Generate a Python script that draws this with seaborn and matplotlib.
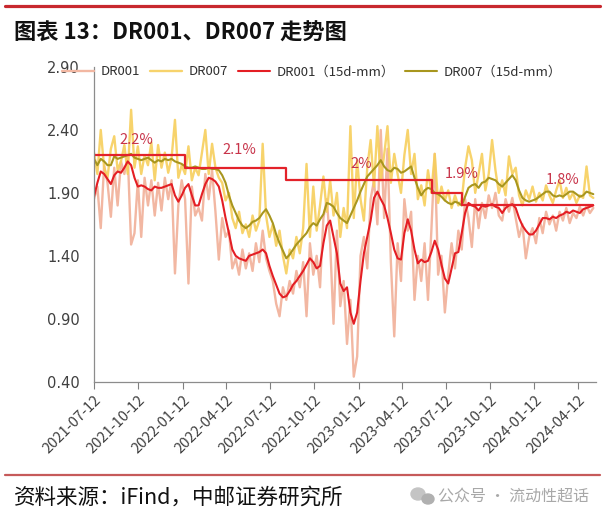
import numpy as np
import pandas as pd
import matplotlib
matplotlib.use("Agg")
import matplotlib.pyplot as plt
import seaborn as sns
from matplotlib.lines import Line2D
from matplotlib.patches import Ellipse

# ---------------- data (weekly samples) ----------------
start_date = "2021-07-12"
dr001 = [
 1.85, 1.95, 1.62, 2.12, 1.98, 1.71, 2.10, 1.80, 2.15, 2.05,
 2.20, 1.49, 1.58, 2.00, 1.55, 2.02, 1.80, 2.00, 1.72, 1.98,
 1.76, 2.02, 1.85, 2.00, 1.26, 1.80, 2.00, 1.85, 1.18, 1.95,
 1.72, 1.78, 1.68, 2.05, 1.85, 2.08, 1.75, 1.37, 1.70, 1.55,
 1.60, 1.30, 1.38, 1.25, 1.45, 1.30, 1.42, 1.28, 1.50, 1.35,
 1.60, 1.38, 1.28, 1.20, 1.02, 0.92, 1.15, 1.05, 1.20, 1.10,
 1.28, 1.15, 1.35, 0.92, 1.50, 1.25, 1.40, 1.15, 1.70, 1.85,
 1.50, 0.86, 1.60, 1.00, 1.20, 0.70, 1.05, 0.44, 0.60, 1.40,
 1.55, 1.30, 1.85, 2.00, 1.65, 2.40, 1.70, 2.25, 1.35, 0.76,
 1.50, 1.20, 1.85, 1.60, 1.75, 1.05, 1.40, 1.20, 1.50, 1.05,
 1.60, 2.21, 1.25, 1.40, 0.95, 1.25, 1.50, 1.30, 1.60, 1.45,
 1.85, 1.70, 1.47, 1.85, 1.62, 1.82, 1.70, 1.88, 1.78, 1.90,
 1.72, 1.68, 1.85, 1.75, 1.86, 1.70, 1.55, 1.65, 1.38, 1.55,
 1.62, 1.50, 1.70, 1.58, 1.75, 1.65, 1.72, 1.60, 1.75, 1.68,
 1.78, 1.66, 1.74, 1.70, 1.79, 1.72, 1.80, 1.74, 1.78,
]
dr007 = [
 2.22, 2.05, 2.40, 2.10, 2.02, 2.25, 2.35, 2.08, 2.15, 2.28,
 2.05, 2.56, 2.10, 2.27, 2.05, 2.20, 2.12, 2.30, 2.00, 2.28,
 2.10, 2.22, 2.06, 2.18, 2.48, 2.02, 2.12, 2.05, 2.27, 2.00,
 2.10, 2.04, 2.22, 2.40, 2.05, 2.29, 2.10, 2.02, 1.98, 1.84,
 1.90, 1.70, 1.62, 1.75, 1.58, 1.65, 1.55, 1.72, 1.60, 1.68,
 2.29, 1.72, 1.55, 1.65, 1.48, 1.60, 1.40, 1.26, 1.45, 1.38,
 1.55, 1.42, 1.62, 2.13, 1.55, 1.95, 1.60, 1.80, 2.03, 1.75,
 2.00, 1.72, 1.90, 1.55, 1.78, 1.62, 2.43, 1.70, 2.16, 1.85,
 1.68, 2.10, 2.32, 1.95, 2.43, 2.00, 2.20, 2.43, 1.98, 2.21,
 2.05, 1.90, 2.20, 2.40, 2.05, 2.21, 1.85, 1.96, 1.80, 2.08,
 1.90, 2.21, 1.82, 1.95, 1.84, 1.92, 1.78, 1.88, 1.80, 1.84,
 2.10, 2.27, 2.16, 1.90, 2.05, 2.21, 1.92, 2.05, 2.32, 2.08,
 1.90, 2.00, 1.88, 2.19, 2.05, 2.10, 1.88, 1.80, 1.92, 1.85,
 1.95, 1.83, 1.90, 1.84, 1.96, 1.88, 1.82, 1.92, 2.00, 1.86,
 1.94, 1.85, 1.90, 1.82, 1.88, 1.86, 2.11, 1.88, 1.86,
]
dr001_ma = [
 1.87, 1.98, 2.07, 2.05, 2.01, 1.97, 2.04, 2.07, 2.06, 2.10,
 2.15, 2.12, 2.02, 1.95, 1.96, 1.95, 1.93, 1.92, 1.95, 1.94,
 1.94, 1.95, 1.96, 1.97, 1.88, 1.83, 1.88, 1.94, 1.97, 1.88,
 1.80, 1.80, 1.89, 1.97, 2.02, 2.01, 1.99, 1.95, 1.84, 1.70,
 1.58, 1.45, 1.40, 1.38, 1.37, 1.36, 1.40, 1.41, 1.42, 1.43,
 1.45, 1.42, 1.32, 1.24, 1.17, 1.10, 1.07, 1.08, 1.12, 1.17,
 1.20, 1.24, 1.28, 1.33, 1.38, 1.35, 1.30, 1.32, 1.50, 1.64,
 1.68, 1.55, 1.42, 1.18, 1.12, 1.15, 0.95, 0.86, 0.95, 1.20,
 1.42, 1.55, 1.68, 1.86, 1.91, 1.85, 1.80, 1.70, 1.58, 1.45,
 1.38, 1.37, 1.58, 1.69, 1.60, 1.45, 1.34, 1.37, 1.35, 1.36,
 1.43, 1.52, 1.45, 1.33, 1.22, 1.18, 1.30, 1.42, 1.43, 1.58,
 1.74, 1.82, 1.80, 1.79, 1.76, 1.80, 1.79, 1.80, 1.81, 1.79,
 1.78, 1.74, 1.78, 1.80, 1.81, 1.78, 1.70, 1.64, 1.60, 1.57,
 1.57, 1.60, 1.65, 1.70, 1.70, 1.69, 1.71, 1.70, 1.72, 1.73,
 1.75, 1.74, 1.76, 1.75, 1.74, 1.77, 1.78, 1.79, 1.80,
]
dr007_ma = [
 2.17, 2.12, 2.17, 2.15, 2.12, 2.12, 2.19, 2.17, 2.18, 2.19,
 2.20, 2.21, 2.18, 2.17, 2.16, 2.17, 2.18, 2.16, 2.14, 2.16,
 2.15, 2.17, 2.16, 2.17, 2.15, 2.14, 2.13, 2.11, 2.10, 2.10,
 2.11, 2.10, 2.09, 2.09, 2.10, 2.09, 2.09, 2.08, 2.04, 1.98,
 1.88, 1.80, 1.74, 1.68, 1.64, 1.62, 1.64, 1.67, 1.68, 1.70,
 1.74, 1.77, 1.72, 1.66, 1.57, 1.50, 1.44, 1.38, 1.41, 1.45,
 1.49, 1.52, 1.55, 1.58, 1.63, 1.66, 1.64, 1.69, 1.73, 1.82,
 1.81, 1.79, 1.74, 1.70, 1.68, 1.66, 1.72, 1.78, 1.84, 1.91,
 1.97, 2.03, 2.06, 2.09, 2.12, 2.16, 2.11, 2.08, 2.07, 2.10,
 2.09, 2.06, 2.07, 2.09, 2.11, 2.02, 1.94, 1.88, 1.92, 1.94,
 1.93, 1.90, 1.89, 1.87, 1.84, 1.82, 1.81, 1.83, 1.82, 1.80,
 1.87, 1.94, 1.96, 1.97, 1.94, 1.98, 1.99, 2.02, 2.01, 2.00,
 1.97, 1.95, 1.98, 2.01, 2.04, 2.00, 1.92, 1.86, 1.84, 1.83,
 1.84, 1.85, 1.87, 1.89, 1.91, 1.91, 1.88, 1.87, 1.88, 1.87,
 1.89, 1.91, 1.91, 1.89, 1.87, 1.88, 1.91, 1.90, 1.89,
]
# policy rate (7-day reverse repo) steps
rate_dates = ["2021-07-12", "2022-01-17", "2022-08-15", "2023-06-13", "2023-08-15"]
rate_vals = [2.2, 2.1, 2.0, 1.9, 1.8]
rate_labels = ["2.2%", "2.1%", "2%", "1.9%", "1.8%"]
rate_label_dates = ["2021-10-07", "2022-05-09", "2023-01-17", "2023-08-13", "2024-03-10"]
rate_label_y = [2.32, 2.24, 2.13, 2.05, 2.00]

xtick_labels = ["2021-07-12", "2021-10-12", "2022-01-12", "2022-04-12", "2022-07-12",
                "2022-10-12", "2023-01-12", "2023-04-12", "2023-07-12", "2023-10-12",
                "2024-01-12", "2024-04-12"]
yticks = [0.40, 0.90, 1.40, 1.90, 2.40, 2.90]
legend_labels = ["DR001", "DR007", "DR001（15d-mm）", "DR007（15d-mm）"]

# ---------------- build ----------------
dates = pd.date_range(start_date, periods=len(dr001), freq="7D")
df = pd.DataFrame({"date": dates, "DR001": dr001, "DR007": dr007,
                   "DR001_MA": dr001_ma, "DR007_MA": dr007_ma})
step_x = list(pd.to_datetime(rate_dates)) + [dates[-1]]
step_y = rate_vals + [rate_vals[-1]]

sns.set_style("ticks")
plt.rcParams["font.family"] = ["Noto Sans CJK SC", "DejaVu Sans"]

W, H = 604, 519
fig = plt.figure(figsize=(W / 100, H / 100), dpi=100)
ax = fig.add_axes([94 / W, 1 - 381.7 / H, (595.7 - 94) / W, (381.7 - 67) / H])

c_raw1 = "#F2B7A2"
c_raw7 = "#F7CF5C"
c_ma1 = "#E41E24"
c_ma7 = "#A8961E"
c_step = "#E3222A"

sns.lineplot(data=df, x="date", y="DR001", ax=ax, color=c_raw1, lw=1.7, label=legend_labels[0])
sns.lineplot(data=df, x="date", y="DR007", ax=ax, color=c_raw7, lw=1.7, alpha=0.9, label=legend_labels[1])
sns.lineplot(data=df, x="date", y="DR001_MA", ax=ax, color=c_ma1, lw=1.5, label=legend_labels[2])
sns.lineplot(data=df, x="date", y="DR007_MA", ax=ax, color=c_ma7, lw=1.5, label=legend_labels[3])
sns.lineplot(x=step_x, y=step_y, ax=ax, color=c_step, lw=1.6, drawstyle="steps-post")

for lab, d, yv in zip(rate_labels, rate_label_dates, rate_label_y):
    ax.text(pd.Timestamp(d), yv, lab, color="#C8344A", fontsize=10.5,
            ha="center", va="center")

ax.set_ylim(0.40, 2.90)
ax.set_xlim(pd.Timestamp(start_date), pd.Timestamp("2024-05-18"))
ax.set_yticks(yticks)
ax.set_yticklabels([f"{v:.2f}" for v in yticks], fontsize=10.5, color="#404040",
                   family="DejaVu Sans")
ax.set_xticks(pd.to_datetime(xtick_labels))
ax.set_xticklabels(xtick_labels, rotation=45, ha="right", rotation_mode="anchor",
                   fontsize=10.5, color="#404040")
ax.tick_params(axis="y", length=0, pad=10)
ax.tick_params(axis="x", length=5, width=0.8, color="#808080", pad=3)
ax.set_xlabel("")
ax.set_ylabel("")
for s in ["top", "right"]:
    ax.spines[s].set_visible(False)
for s in ["left", "bottom"]:
    ax.spines[s].set_color("#8C8C8C")
    ax.spines[s].set_linewidth(0.9)

handles, labels = ax.get_legend_handles_labels()
ax.get_legend().remove()
fig.legend(handles[:4], labels[:4], loc="center left", bbox_to_anchor=(62 / W, 1 - 72 / H),
           ncol=4, frameon=False, handlelength=2.4, handletextpad=0.5, columnspacing=0.8,
           borderpad=0, borderaxespad=0, fontsize=9.5, labelcolor="#303030")

# title, rules, footer
fig.add_artist(Line2D([5 / W, 600 / W], [1 - 5.5 / H] * 2, color="#C8282E", lw=2.3))
fig.text(14 / W, 1 - 33 / H, "图表 13：DR001、DR007 走势图", fontsize=16,
         weight="bold", va="center", ha="left", color="#111111")
fig.add_artist(Line2D([5 / W, 600 / W], [1 - 475 / H] * 2, color="#C65A5A", lw=1.6))
fig.text(14 / W, 1 - 498 / H, "资料来源：iFind，中邮证券研究所", fontsize=15.5,
         va="center", ha="left", color="#111111")
fig.add_artist(Ellipse((418 / W, 1 - 494 / H), 14 / W, 12 / H, color="#C4C4C4",
                       transform=fig.transFigure))
fig.add_artist(Ellipse((428 / W, 1 - 499 / H), 12 / W, 10 / H, color="#B0B0B0",
                       transform=fig.transFigure))
fig.text(438 / W, 1 - 497 / H, "公众号 · 流动性超话", fontsize=11.5,
         va="center", ha="left", color="#A8A8A8")

fig.savefig("out.png", dpi=100)
